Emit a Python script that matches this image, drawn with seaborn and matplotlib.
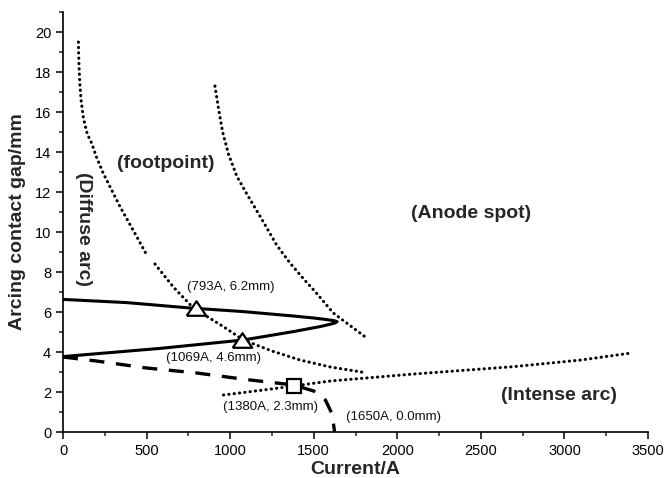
import numpy as np
import pandas as pd
import matplotlib
matplotlib.use("Agg")
import matplotlib.pyplot as plt
from matplotlib.ticker import MultipleLocator
import seaborn as sns

# ---- data ----
diffuse_a_x = [92, 95, 100, 108, 122, 145, 171, 200, 241, 341, 441, 501]
diffuse_a_y = [19.5, 18.5, 17.5, 16.6, 15.7, 14.9, 14.45, 13.75, 12.93, 11.27, 9.77, 8.85]
diffuse_b_x = [550, 660, 780, 959, 1079, 1250, 1418, 1600, 1807]
diffuse_b_y = [8.4, 7.25, 6.2, 5.27, 4.6, 4.05, 3.6, 3.25, 2.97]

footpoint_x = [909, 930, 955, 990, 1039, 1100, 1199, 1278, 1358, 1440, 1518, 1617, 1737, 1817]
footpoint_y = [17.3, 16.2, 15.0, 13.9, 12.8, 11.9, 10.5, 9.35, 8.45, 7.65, 6.93, 5.95, 5.2, 4.7]

loop_x = [0, 381, 760, 1079, 1378, 1500, 1578, 1620, 1640, 1630, 1600, 1538, 1378, 1079, 580, 181, 0]
loop_y = [6.63, 6.47, 6.2, 6.02, 5.8, 5.7, 5.62, 5.57, 5.52, 5.46, 5.39, 5.27, 5.02, 4.6, 4.18, 3.9, 3.77]

dashed_x = [0, 200, 500, 800, 1100, 1380, 1500, 1570, 1610, 1625]
dashed_y = [3.75, 3.55, 3.2, 2.95, 2.62, 2.35, 2.05, 1.6, 0.9, 0.0]

intense_x = [960, 1200, 1380, 1600, 2100, 2700, 3100, 3400]
intense_y = [1.85, 2.1, 2.3, 2.55, 2.9, 3.27, 3.6, 3.95]

tri_x = [793, 1069]
tri_y = [6.2, 4.6]
sq_x = [1380]
sq_y = [2.3]

point_labels = ["(793A, 6.2mm)", "(1069A, 4.6mm)", "(1380A, 2.3mm)", "(1650A, 0.0mm)"]
point_label_x = [1005, 898, 1241, 1978]
point_label_y = [7.27, 3.68, 1.23, 0.77]

region_labels = ["(footpoint)", "(Anode spot)", "(Intense arc)"]
region_label_x = [615, 2443, 2966]
region_label_y = [13.43, 10.93, 1.85]

x_ticks = [0, 500, 1000, 1500, 2000, 2500, 3000, 3500]
y_ticks = [0, 2, 4, 6, 8, 10, 12, 14, 16, 18, 20]

# ---- style ----
sns.set_style("ticks")
plt.rcParams['font.family'] = ['Liberation Sans', 'DejaVu Sans']

fig = plt.figure(figsize=(6.65, 4.78), dpi=100)
ax = fig.add_axes([63 / 665, 46 / 478, 585 / 665, 420 / 478])

dot = dict(color="black", linewidth=2.2, linestyle=(0, (0.1, 1.65)),
           dash_capstyle="round", sort=False, estimator=None)

sns.lineplot(x=diffuse_a_x, y=diffuse_a_y, ax=ax, **dot)
sns.lineplot(x=diffuse_b_x, y=diffuse_b_y, ax=ax, **dot)
sns.lineplot(x=footpoint_x, y=footpoint_y, ax=ax, **dot)
sns.lineplot(x=intense_x, y=intense_y, ax=ax, **dot)

sns.lineplot(x=loop_x, y=loop_y, ax=ax, color="black", linewidth=2.2,
             sort=False, estimator=None)
sns.lineplot(x=dashed_x, y=dashed_y, ax=ax, color="black", linewidth=2.4,
             linestyle=(0, (4.5, 3.5)), sort=False, estimator=None)

tri_marker = [(-1, -0.75), (1, -0.75), (0, 0.75), (-1, -0.75)]
ax.plot(tri_x, tri_y, linestyle="none", marker=tri_marker, markersize=14,
        markerfacecolor="white", markeredgecolor="black", markeredgewidth=1.6, zorder=5)
ax.plot(sq_x, sq_y, linestyle="none", marker="s", markersize=10,
        markerfacecolor="white", markeredgecolor="black", markeredgewidth=1.6, zorder=5)

for t, x, y in zip(point_labels, point_label_x, point_label_y):
    ax.text(x, y, t, fontsize=9.5, ha="center", va="center", color="#111111")
for t, x, y in zip(region_labels, region_label_x, region_label_y):
    ax.text(x, y, t, fontsize=14, fontweight="bold", ha="center", va="center")
ax.text(125, 10.15, "(Diffuse arc)", fontsize=14, fontweight="bold",
        ha="center", va="center", rotation=-90)

ax.set_xlim(0, 3500)
ax.set_ylim(0, 21)
ax.set_xticks(x_ticks)
ax.set_yticks(y_ticks)
ax.xaxis.set_minor_locator(MultipleLocator(250))
ax.yaxis.set_minor_locator(MultipleLocator(1))
ax.tick_params(which="major", direction="out", length=5, width=1.1, labelsize=10.5, colors="black")
ax.tick_params(which="minor", direction="out", length=3, width=1.1)
for s in ["top", "right"]:
    ax.spines[s].set_visible(False)
for s in ["left", "bottom"]:
    ax.spines[s].set_linewidth(1.2)
    ax.spines[s].set_color("black")

ax.set_xlabel("Current/A", fontsize=14, fontweight="bold", labelpad=2)
ax.set_ylabel("Arcing contact gap/mm", fontsize=14, fontweight="bold", labelpad=6)

fig.savefig("out.png", dpi=100, facecolor="white")
